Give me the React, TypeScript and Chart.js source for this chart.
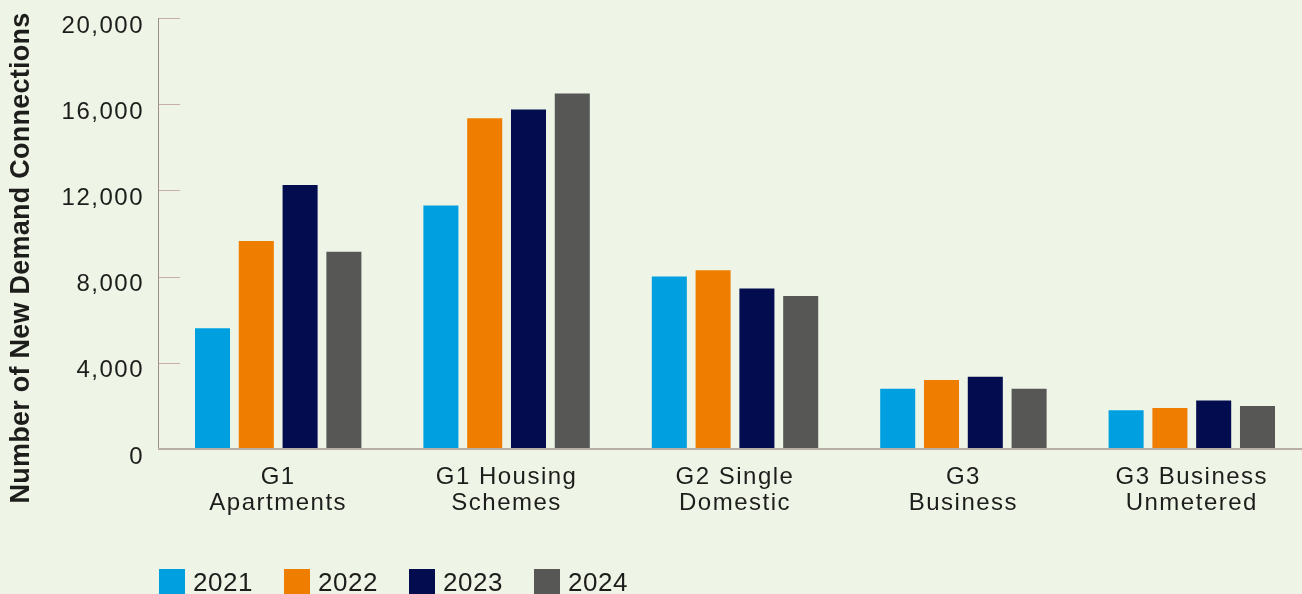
import React, { useEffect, useRef } from "react";
import { Chart, registerables } from "chart.js";

Chart.register(...registerables);

const categories: string[][] = [
  ["G1", "Apartments"],
  ["G1 Housing", "Schemes"],
  ["G2 Single", "Domestic"],
  ["G3", "Business"],
  ["G3 Business", "Unmetered"],
];

const seriesLabels = ["2021", "2022", "2023", "2024"];
const values2021 = [5600, 11300, 8000, 2800, 1800];
const values2022 = [9650, 15350, 8300, 3200, 1900];
const values2023 = [12250, 15750, 7450, 3350, 2250];
const values2024 = [9150, 16500, 7100, 2800, 2000];
const seriesColors = ["#00A0E0", "#EF7D00", "#030C4E", "#575756"];

const yMin = 0;
const yMax = 20000;
const yStep = 4000;
const yTitle = "Number of New Demand Connections";

const FONT = '"Liberation Sans", Arial, Helvetica, sans-serif';
const TEXT = "#1d1d1b";
const BG = "#EEF5E7";

const customPlugin = {
  id: "customAxesLegend",
  beforeDraw(chart: any) {
    chart.ctx.letterSpacing = "1.5px";
  },
  afterDatasetsDraw(chart: any) {
    const { ctx, chartArea, scales } = chart;
    const y = scales.y;
    const axisX = chartArea.left - 6;
    const top = y.getPixelForValue(yMax);
    const base = y.getPixelForValue(yMin);
    ctx.save();
    ctx.letterSpacing = "0px";
    ctx.strokeStyle = "#c9aeab";
    ctx.lineWidth = 1;
    y.ticks.forEach((t: any) => {
      const py = Math.round(y.getPixelForValue(t.value)) + 0.5;
      ctx.beginPath();
      ctx.moveTo(axisX, py);
      ctx.lineTo(axisX + 22, py);
      ctx.stroke();
    });
    ctx.strokeStyle = "#a08d8d";
    ctx.beginPath();
    ctx.moveTo(axisX + 0.5, Math.round(top));
    ctx.lineTo(axisX + 0.5, base);
    ctx.stroke();
    ctx.strokeStyle = "#b9aea7";
    ctx.lineWidth = 2;
    ctx.beginPath();
    ctx.moveTo(axisX, base);
    ctx.lineTo(chartArea.right, base);
    ctx.stroke();
    ctx.restore();
  },
  afterDraw(chart: any) {
    const { ctx } = chart;
    ctx.save();
    ctx.letterSpacing = "0.25px";
    ctx.translate(22, 258);
    ctx.rotate(-Math.PI / 2);
    ctx.font = `bold 27px ${FONT}`;
    ctx.fillStyle = TEXT;
    ctx.textAlign = "center";
    ctx.textBaseline = "middle";
    ctx.fillText(yTitle, 0, 0);
    ctx.restore();
    ctx.save();
    ctx.letterSpacing = "0.5px";
    ctx.font = `26px ${FONT}`;
    ctx.textAlign = "left";
    ctx.textBaseline = "alphabetic";
    chart.data.datasets.forEach((ds: any, i: number) => {
      const x = 159 + i * 125;
      ctx.fillStyle = ds.backgroundColor;
      ctx.fillRect(x, 569, 26, 26);
      ctx.fillStyle = TEXT;
      ctx.fillText(ds.label, x + 34, 591);
    });
    ctx.restore();
  },
};

export default function App() {
  const canvasRef = useRef<HTMLCanvasElement | null>(null);

  useEffect(() => {
    document.body.style.margin = "0";
    document.body.style.background = BG;
    document.documentElement.style.background = BG;
    const canvas = canvasRef.current;
    if (!canvas) return;
    const allValues = [values2021, values2022, values2023, values2024];
    const chart = new Chart(canvas, {
      type: "bar",
      data: {
        labels: categories,
        datasets: seriesLabels.map((label, i) => ({
          label,
          data: allValues[i],
          backgroundColor: seriesColors[i],
          borderWidth: 0,
          barPercentage: 0.8,
          categoryPercentage: 0.767,
        })),
      },
      options: {
        responsive: false,
        animation: false,
        devicePixelRatio: 1,
        layout: { padding: { top: 18, bottom: 65, left: 0, right: 0 } },
        plugins: {
          legend: { display: false },
          tooltip: { enabled: false },
          title: { display: false },
        },
        scales: {
          x: {
            grid: { display: false },
            border: { display: false },
            ticks: {
              color: TEXT,
              font: { family: FONT, size: 24, lineHeight: 1.083 },
              padding: 7,
              autoSkip: false,
              maxRotation: 0,
              minRotation: 0,
            },
            afterFit: (scale: any) => {
              scale.height = 80;
              scale.paddingLeft = 0;
              scale.paddingRight = 0;
            },
          },
          y: {
            min: yMin,
            max: yMax,
            grid: { display: false },
            border: { display: false },
            ticks: {
              stepSize: yStep,
              color: TEXT,
              font: { family: FONT, size: 24 },
              padding: 12,
              labelOffset: 8,
              callback: (v: any) => Number(v).toLocaleString("en-US"),
            },
            afterFit: (scale: any) => {
              scale.width = 164;
              scale.paddingTop = 0;
              scale.paddingBottom = 0;
            },
          },
        },
      },
      plugins: [customPlugin],
    });
    return () => chart.destroy();
  }, []);

  return (
    <div style={{ width: 1302, height: 594, overflow: "hidden", position: "relative", background: BG }}>
      <canvas ref={canvasRef} width={1306} height={594} style={{ display: "block", width: 1306, height: 594 }} />
    </div>
  );
}
